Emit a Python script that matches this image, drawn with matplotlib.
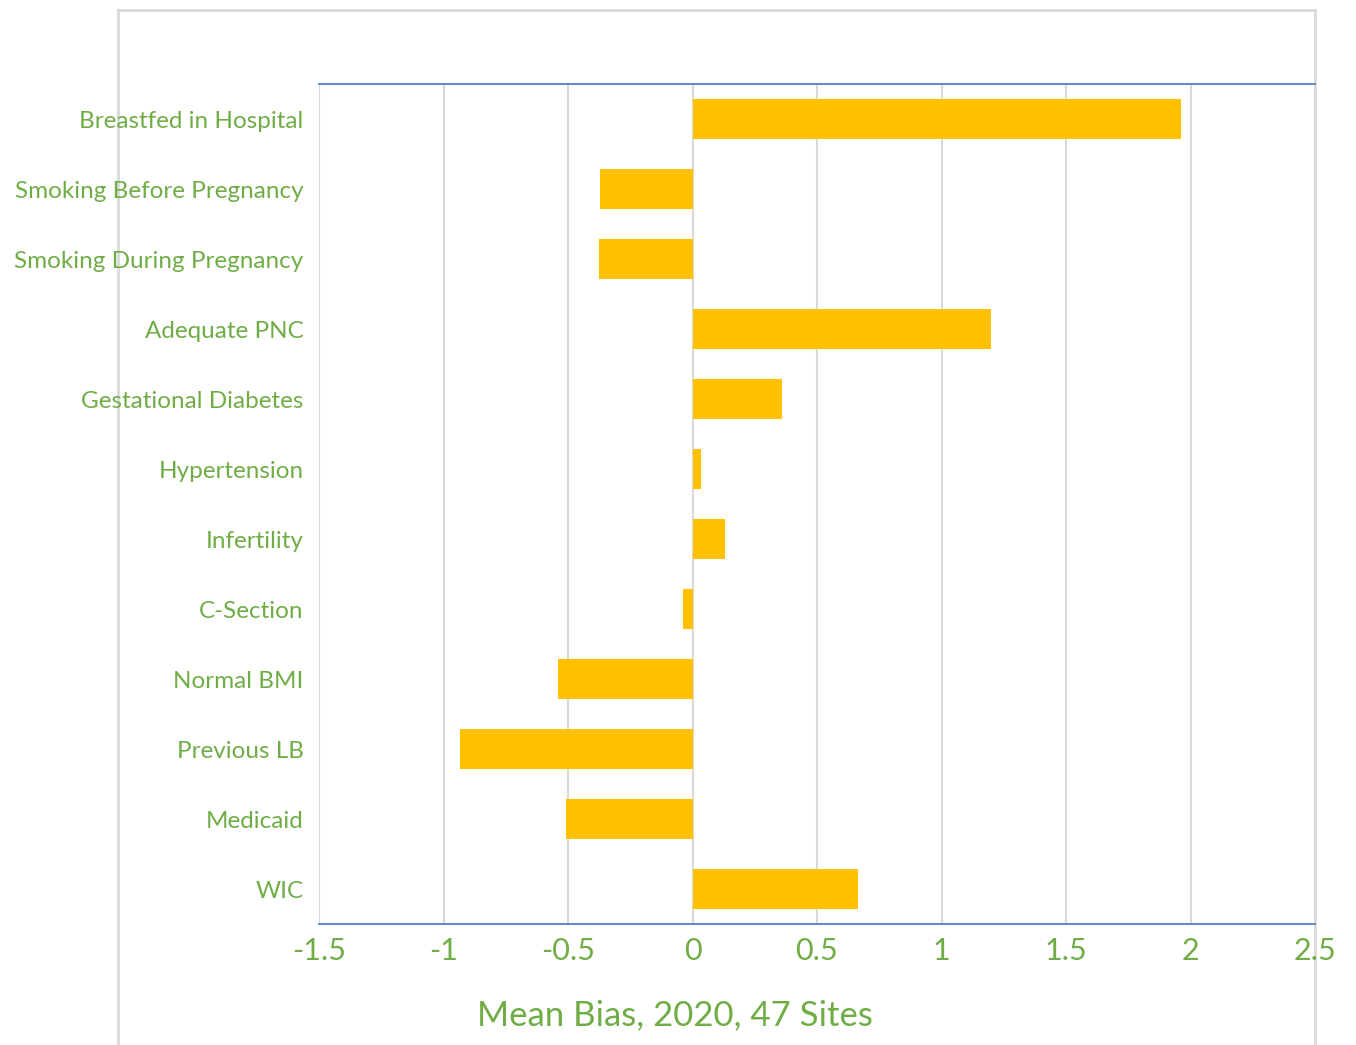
import matplotlib.pyplot as plt
from matplotlib.lines import Line2D

categories = ['Breastfed in Hospital', 'Smoking Before Pregnancy', 'Smoking During Pregnancy',
              'Adequate PNC', 'Gestational Diabetes', 'Hypertension', 'Infertility',
              'C-Section', 'Normal BMI', 'Previous LB', 'Medicaid', 'WIC']
bias = [1.96, -0.37, -0.375, 1.20, 0.36, 0.035, 0.13, -0.04, -0.54, -0.935, -0.51, 0.665]
xticks = [-1.5, -1, -0.5, 0, 0.5, 1, 1.5, 2, 2.5]
xticklabels = ['-1.5', '-1', '-0.5', '0', '0.5', '1', '1.5', '2', '2.5']

green = '#70AD47'
gold = '#FFC000'
grid = '#D9D9D9'
blue = '#4472C4'

plt.rcParams['font.family'] = ['Lato', 'DejaVu Sans']

fig = plt.figure(figsize=(13.56, 10.45), dpi=100)
ax = fig.add_axes([319/1356, 121/1045, 996/1356, 840/1045])

ypos = list(range(len(categories)))
ax.barh(ypos, bias, height=0.56, color=gold, zorder=3)
ax.set_ylim(len(categories) - 0.5, -0.5)
ax.set_xlim(-1.5, 2.5)
ax.set_xticks(xticks)
ax.set_xticklabels(xticklabels)
ax.set_yticks(ypos)
ax.set_yticklabels(categories)
ax.tick_params(axis='x', length=0, pad=9, labelsize=22, labelcolor=green)
ax.tick_params(axis='y', length=0, pad=11, labelsize=17.5, labelcolor=green)
for lbl in ax.get_yticklabels():
    lbl.set_y(lbl.get_position()[1])
ax.grid(axis='x', color=grid, linewidth=1.5, zorder=0)

for s in ['left', 'right']:
    ax.spines[s].set_visible(False)
for s in ['top', 'bottom']:
    ax.spines[s].set_color(blue)
    ax.spines[s].set_linewidth(1.2)

# outer chart frame
fx0, fx1, fy1 = 118/1356, 1315/1356, 1 - 10/1045
for xs, ys in [([fx0, fx0], [0, fy1]), ([fx0, fx1], [fy1, fy1]), ([fx1, fx1], [0, fy1])]:
    fig.add_artist(Line2D(xs, ys, color=grid, linewidth=2, transform=fig.transFigure, zorder=0))

fig.text(675/1356, 1 - 1015/1045, 'Mean Bias, 2020, 47 Sites', ha='center', va='center',
         fontsize=25, color=green)

fig.savefig('out.png', dpi=100)
